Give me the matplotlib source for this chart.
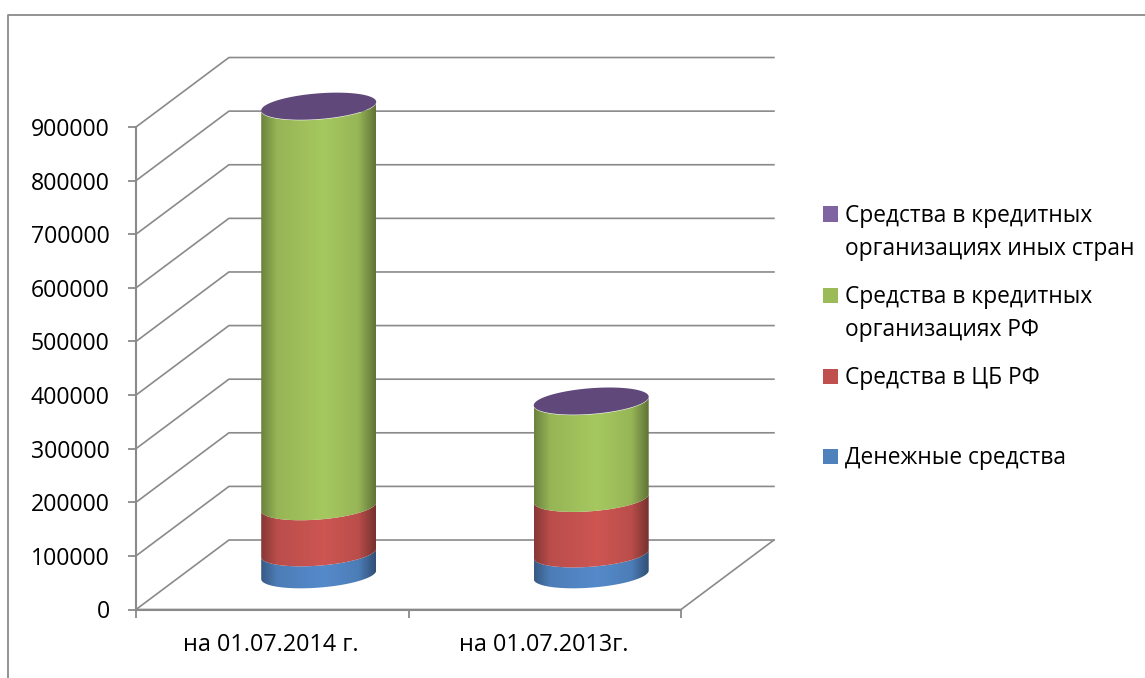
import numpy as np
import matplotlib
matplotlib.use('Agg')
import matplotlib.pyplot as plt
from matplotlib.colors import LinearSegmentedColormap, to_rgb
from matplotlib.lines import Line2D
from matplotlib.patches import Polygon, Rectangle

plt.rcParams['font.family'] = ['Open Sans', 'DejaVu Sans']

# Data
categories = ['на 01.07.2014 г.', 'на 01.07.2013г.']
cash = [41000, 39000]
central_bank = [86000, 103500]
banks_rf = [746000, 180500]
banks_foreign = [1000, 1000]
y_ticks = [0, 100000, 200000, 300000, 400000, 500000, 600000, 700000, 800000, 900000]

W, H = 1145, 678
GRAY = '#8a8a8a'

# Depth of the fake 3D box and cylinder shape, in axis units
DEPTH_X = 0.341
DEPTH_Y = 129600
RX = 0.211
RY = 24000
SHEAR = 8000

fig = plt.figure(figsize=(W / 100, H / 100), dpi=100)
ax = fig.add_axes([136 / W, 1 - 609.5 / H, 545 / W, 482.5 / H])
ax.set_xlim(0, 2)
ax.set_ylim(0, 900000)
ax.set_autoscale_on(False)
ax.patch.set_visible(False)

# Outer frame, only top and left are visible
fig.add_artist(Line2D([8 / W, 8 / W, 1], [0, 1 - 15 / H, 1 - 15 / H], color=GRAY, lw=1.3))

# Walls
for v in y_ticks:
    ax.plot([0, DEPTH_X, 2 + DEPTH_X], [v, v + DEPTH_Y, v + DEPTH_Y], color=GRAY, lw=1.2, clip_on=False, zorder=1)
ax.plot([0, 2, 2 + DEPTH_X], [0, 0, DEPTH_Y], color=GRAY, lw=1.2, clip_on=False, zorder=1)

for s in ['top', 'right']:
    ax.spines[s].set_visible(False)
for s in ['left', 'bottom']:
    ax.spines[s].set_color(GRAY)
    ax.spines[s].set_linewidth(1.5)
ax.set_yticks(y_ticks)
ax.set_yticklabels([str(v) for v in y_ticks], fontsize=16.7, color='black')
ax.set_xticks([0, 1, 2])
ax.set_xticklabels([])
ax.tick_params(axis='both', color=GRAY, width=1.3, length=6, direction='out')
ax.tick_params(axis='y', pad=13)
for i, name in enumerate(categories):
    ax.text(i + 0.5 - 0.004, -66000, name, ha='center', va='center', fontsize=16.8, color='black')


def ellipse_points(cx, cy, t):
    return cx + RX * np.cos(t), cy + RY * np.sin(t) + SHEAR * np.cos(t)


def draw_side(cx, low, high, color):
    t = np.linspace(np.pi, 2 * np.pi, 80)
    x1, y1 = ellipse_points(cx, low, t)
    x2, y2 = ellipse_points(cx, high, t[::-1])
    poly = Polygon(np.column_stack([np.r_[x1, x2], np.r_[y1, y2]]), closed=True,
                   transform=ax.transData, facecolor='none', edgecolor='none')
    ax.add_patch(poly)
    poly.set_clip_on(False)
    base = np.array(to_rgb(color))
    stops = [(0, base * 0.7), (0.14, base * 0.97), (0.55, np.minimum(base * 1.07, 1)),
             (0.85, base * 0.97), (1, base * 0.62)]
    cmap = LinearSegmentedColormap.from_list('side', stops)
    im = ax.imshow(np.linspace(0, 1, 200).reshape(1, -1), cmap=cmap, aspect='auto',
                   extent=[cx - RX, cx + RX, low - RY - SHEAR, high + RY + SHEAR],
                   zorder=3, interpolation='bilinear')
    im.set_clip_box(fig.bbox)
    im.set_clip_path(poly)


series = [cash, central_bank, banks_rf]
side_colors = ['#4F81BD', '#C0504D', '#9BBB59']
for i in range(len(categories)):
    cx = i + 0.5 + DEPTH_X / 2
    bottom = DEPTH_Y / 2
    for vals, col in zip(series, side_colors):
        draw_side(cx, bottom, bottom + vals[i], col)
        bottom += vals[i]
    bottom += banks_foreign[i]
    t = np.linspace(0, 2 * np.pi, 160)
    x, y = ellipse_points(cx, bottom, t)
    ax.fill(x, y, color='#60497A', lw=0, clip_on=False, zorder=4)

ax.set_xlim(0, 2)
ax.set_ylim(0, 900000)

# Legend, spacing in the original is uneven so it is placed by hand
legend_items = [
    ('#8064A2', 'Средства в кредитных\nорганизациях иных стран', 214),
    ('#9BBB59', 'Средства в кредитных\nорганизациях РФ', 295),
    ('#C0504D', 'Средства в ЦБ РФ', 376),
    ('#4F81BD', 'Денежные средства', 456),
]
for col, label, ypx in legend_items:
    fig.add_artist(Rectangle((823 / W, 1 - (ypx + 7.5) / H), 15 / W, 15 / H,
                             transform=fig.transFigure, facecolor=col, edgecolor='none'))
    fig.text(845 / W, 1 - (ypx - 10) / H, label, ha='left', va='top', fontsize=16.4,
             color='black', linespacing=1.5)

fig.savefig('out.png', dpi=100)
